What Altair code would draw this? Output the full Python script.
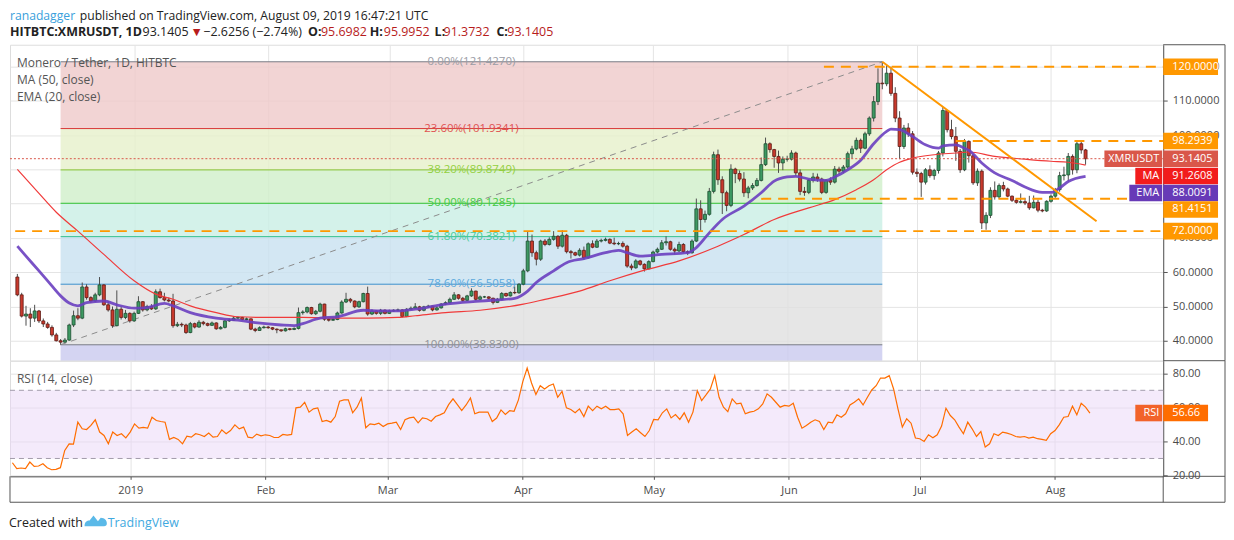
import altair as alt
import pandas as pd

FONT = "Open Sans"

# ---------------- daily candles, HITBTC XMR/USDT ----------------
first_day = "2018-12-05"
first_open = 58.6

close_dec = [53.4, 47.2, 47.8, 46.6, 48.7, 45.8, 44.9, 43.9, 41.7, 40.0, 39.6, 40.2, 44.6, 47.3, 46.6,
             55.7, 52.6, 51.6, 53.4, 56.3, 50.5, 49.0, 44.4, 49.2, 46.8, 48.0, 45.8]
high_dec = [59.5, 54.0, 50.2, 49.5, 50.5, 49.0, 46.5, 45.5, 44.5, 42.3, 40.5, 40.8, 45.0, 48.8, 49.5,
            57.0, 56.5, 53.0, 54.0, 58.6, 56.5, 51.5, 50.0, 54.7, 50.0, 49.0, 48.3]
low_dec = [53.0, 46.8, 44.4, 44.0, 45.5, 45.2, 44.0, 43.5, 41.2, 39.8, 38.83, 39.4, 40.0, 44.0, 46.0,
           46.3, 52.0, 51.0, 51.3, 53.0, 50.2, 48.5, 43.8, 44.2, 46.2, 46.3, 45.3]

close_jan = [48.0, 51.4, 49.0, 50.0, 49.3, 54.3, 52.6, 51.9, 51.6, 44.4, 44.8, 44.6, 42.4, 45.0, 44.0, 45.4,
             45.0, 44.5, 45.2, 43.5, 43.9, 45.8, 46.0, 46.6, 46.8, 46.2, 46.4, 43.4, 43.0, 43.8, 44.0]
high_jan = [48.5, 53.0, 51.6, 50.5, 50.7, 55.0, 55.2, 54.0, 52.6, 53.7, 45.5, 45.3, 45.0, 45.5, 45.3, 46.0,
            45.8, 45.3, 45.6, 45.4, 44.3, 46.2, 46.5, 47.2, 47.1, 47.0, 46.8, 46.5, 43.8, 44.2, 44.4]
low_jan = [45.5, 47.8, 48.5, 48.6, 49.0, 49.0, 52.3, 51.5, 51.2, 43.8, 44.0, 44.0, 42.0, 42.2, 43.6, 43.8,
           44.5, 44.2, 44.3, 43.2, 43.3, 43.6, 45.5, 45.8, 46.4, 45.9, 46.0, 43.1, 42.5, 42.9, 43.6]

close_feb = [43.8, 43.4, 43.2, 42.9, 43.5, 43.3, 43.6, 48.2, 48.4, 49.7, 47.9, 48.6, 50.7, 46.3, 46.0, 46.2,
             48.1, 51.3, 52.1, 51.6, 49.9, 51.4, 53.8, 47.8, 48.7, 48.0, 48.9, 48.0]
high_feb = [44.3, 44.0, 43.6, 43.2, 43.8, 43.7, 43.9, 49.7, 48.9, 50.0, 49.9, 49.0, 51.1, 50.8, 46.6, 46.6,
            48.5, 51.8, 54.0, 52.5, 51.8, 51.7, 54.0, 55.8, 49.2, 48.9, 49.3, 49.2]
low_feb = [43.5, 43.1, 42.2, 42.6, 42.7, 43.0, 43.1, 43.3, 47.6, 48.0, 47.6, 47.5, 48.3, 45.8, 45.6, 45.8,
           46.0, 47.9, 51.0, 51.0, 49.5, 49.6, 51.2, 47.3, 47.5, 47.6, 47.5, 47.7]

close_mar = [48.7, 48.9, 49.0, 47.1, 49.2, 49.5, 49.9, 48.9, 49.9, 50.1, 49.0, 49.6, 50.7, 51.1, 52.1, 53.4,
             52.4, 51.8, 53.1, 54.5, 52.1, 52.8, 52.8, 52.4, 51.2, 52.1, 53.8, 53.1, 54.1, 54.0, 56.5]
high_mar = [49.1, 49.2, 49.4, 49.2, 49.5, 50.0, 51.0, 50.2, 50.2, 50.5, 50.3, 50.0, 51.0, 51.5, 52.6, 54.2,
            53.6, 52.8, 53.4, 55.3, 54.6, 53.2, 53.1, 53.0, 52.6, 52.5, 54.2, 54.0, 54.4, 55.8, 56.8]
low_mar = [47.8, 48.4, 48.6, 46.8, 46.9, 49.0, 49.3, 48.5, 48.6, 49.6, 48.6, 48.8, 49.4, 50.4, 50.9, 51.9,
           52.0, 51.4, 51.6, 52.8, 51.8, 51.9, 52.5, 52.1, 50.6, 51.0, 51.8, 52.8, 52.9, 53.6, 53.7]

close_apr = [60.4, 69.1, 65.7, 63.8, 69.1, 68.1, 69.6, 70.5, 67.6, 70.8, 66.0, 65.7, 65.0, 66.4, 64.2, 68.3,
             67.3, 69.1, 69.3, 69.6, 68.5, 68.3, 68.4, 67.6, 61.8, 61.3, 63.3, 62.3, 61.0, 63.1]
high_apr = [61.0, 72.0, 71.0, 66.3, 69.5, 69.7, 70.2, 72.0, 70.8, 72.3, 71.2, 66.5, 66.0, 67.0, 67.5, 68.7,
            69.3, 69.7, 69.8, 70.1, 69.9, 70.1, 68.9, 69.0, 68.0, 62.5, 63.8, 63.6, 62.6, 63.5]
low_apr = [56.2, 60.0, 64.5, 62.0, 63.3, 67.6, 67.8, 69.2, 66.8, 67.2, 65.5, 64.0, 64.7, 64.6, 63.6, 64.0,
           67.0, 67.1, 68.7, 69.0, 68.2, 67.9, 67.9, 67.2, 61.3, 60.6, 61.0, 61.9, 60.2, 60.8]

close_may = [65.9, 66.7, 68.6, 68.9, 66.7, 66.2, 68.1, 66.0, 65.7, 69.1, 78.5, 75.4, 76.9, 83.6, 94.3, 87.0,
             83.2, 79.5, 90.1, 88.8, 87.2, 83.2, 84.6, 85.3, 86.8, 91.4, 97.5, 95.8, 93.8, 91.9, 93.0]
high_may = [66.3, 67.2, 69.4, 70.5, 69.2, 67.2, 68.9, 68.5, 66.4, 69.6, 81.5, 81.0, 78.0, 84.6, 95.2, 95.8,
            88.0, 83.8, 91.5, 90.5, 89.7, 89.2, 85.2, 86.0, 87.5, 93.5, 99.3, 97.9, 96.0, 95.5, 93.8]
low_may = [62.9, 65.5, 66.5, 67.8, 66.3, 65.2, 65.9, 65.6, 65.0, 65.4, 68.8, 72.0, 74.5, 76.5, 83.0, 85.5,
           77.0, 77.8, 79.0, 86.0, 86.5, 82.0, 81.6, 84.0, 85.0, 86.5, 91.0, 94.9, 90.5, 89.0, 89.8]

close_jun = [93.0, 94.8, 89.0, 83.6, 83.3, 86.8, 87.8, 87.2, 83.3, 86.8, 86.3, 90.1, 89.5, 90.7, 94.6, 96.0,
             98.5, 96.2, 100.4, 105.0, 109.8, 115.2, 115.0, 118.1, 112.2, 105.0, 96.7, 102.1, 100.4, 89.2]
high_jun = [94.0, 95.6, 95.2, 90.0, 84.9, 87.2, 89.0, 88.8, 87.6, 87.2, 87.7, 91.0, 90.8, 91.3, 95.2, 96.9,
            99.3, 99.0, 101.0, 105.5, 111.4, 119.5, 121.427, 120.5, 120.0, 114.0, 107.0, 103.0, 103.5, 101.2]
low_jun = [92.3, 92.6, 88.2, 82.5, 82.3, 82.8, 86.2, 86.4, 82.8, 82.9, 85.5, 85.9, 88.6, 88.9, 90.2, 93.2,
           95.6, 94.8, 95.9, 99.8, 104.0, 108.8, 113.4, 114.3, 111.5, 103.8, 93.0, 96.0, 99.5, 88.5]

close_jul = [88.8, 86.3, 89.9, 88.2, 89.7, 94.8, 107.2, 101.6, 99.6, 95.3, 89.9, 98.2, 94.0, 86.1, 89.5, 74.4,
             76.6, 83.9, 82.0, 85.3, 84.3, 82.2, 81.0, 80.4, 80.6, 80.2, 78.8, 80.4, 78.1, 77.9, 80.7]
high_jul = [90.3, 89.3, 90.4, 91.2, 90.2, 95.4, 108.2, 107.0, 104.5, 102.4, 96.0, 98.9, 98.5, 94.6, 90.3, 90.0,
            77.5, 84.8, 86.5, 85.9, 86.4, 84.7, 82.4, 81.5, 83.0, 81.7, 82.3, 82.4, 81.2, 78.5, 81.0]
low_jul = [87.8, 82.0, 85.6, 87.6, 87.0, 88.8, 93.8, 100.8, 98.8, 92.5, 89.0, 89.5, 92.0, 85.5, 85.2, 72.6,
           72.4, 75.8, 81.2, 81.5, 83.6, 81.9, 80.5, 80.0, 80.1, 79.6, 78.2, 78.6, 77.5, 77.5, 77.6]

close_aug = [82.2, 84.1, 88.2, 88.4, 93.8, 89.9, 97.5, 95.6982, 93.1405]
high_aug = [82.7, 84.6, 89.3, 90.8, 94.8, 94.4, 98.2, 98.3, 95.9952]
low_aug = [80.3, 81.7, 83.5, 86.8, 86.5, 88.5, 88.9, 94.6, 91.3732]

closes = close_dec + close_jan + close_feb + close_mar + close_apr + close_may + close_jun + close_jul + close_aug
highs = high_dec + high_jan + high_feb + high_mar + high_apr + high_may + high_jun + high_jul + high_aug
lows = low_dec + low_jan + low_feb + low_mar + low_apr + low_may + low_jun + low_jul + low_aug

# RSI(14) read day by day
rsi_values = [
    27.5, 24.0, 24.4, 24.0, 27.9, 25.4, 25.6, 26.9, 24.6, 23.4,
    23.6, 24.6, 34.7, 38.6, 38.4, 51.3, 47.4, 47.0, 49.4, 52.7,
    45.5, 43.5, 38.6, 45.5, 43.5, 44.5, 42.1, 45.5, 50.3, 47.8,
    48.2, 47.8, 54.2, 52.3, 51.7, 51.3, 41.2, 42.3, 41.2, 38.6,
    43.1, 42.5, 44.5, 43.9, 42.9, 44.9, 42.5, 42.9, 46.8, 44.5,
    46.4, 49.7, 47.4, 48.4, 42.5, 42.1, 44.3, 43.3, 43.9, 43.5,
    42.3, 42.3, 44.1, 43.7, 44.1, 59.7, 60.1, 63.0, 57.2, 59.1,
    59.7, 51.7, 52.3, 51.3, 54.6, 63.6, 64.4, 64.4, 56.8, 60.1,
    65.5, 48.0, 50.3, 49.9, 50.7, 48.8, 50.3, 50.7, 51.3, 47.0,
    52.7, 53.8, 54.2, 50.9, 53.8, 53.3, 51.9, 54.6, 55.6, 56.8,
    61.6, 65.0, 61.6, 58.1, 61.4, 65.5, 56.2, 57.2, 57.2, 57.2,
    51.7, 53.7, 58.5, 55.8, 58.1, 57.7, 64.4, 75.1, 83.1, 74.3,
    67.5,
    72.7, 70.8, 72.7, 73.7, 65.9, 69.4, 59.7, 58.7, 56.8, 59.1,
    54.6, 60.7, 58.1, 60.7, 59.1, 60.7, 58.7, 58.7, 59.1, 56.2,
    43.5, 45.5, 47.4, 45.1, 42.9, 46.4, 52.9, 52.7, 56.8, 59.1,
    53.8, 55.8, 52.9, 56.8, 51.3, 57.2, 69.8, 64.0, 67.3, 70.8,
    78.6, 65.9, 60.1, 57.5, 65.0, 62.0, 62.4, 56.2, 57.2, 57.7,
    59.1, 62.0, 67.9, 65.9, 63.0, 60.1, 61.1, 60.7, 62.4, 54.2,
    47.8, 49.4, 51.3, 52.7, 51.7, 47.0, 51.3, 50.9, 55.6, 54.2,
    56.2, 61.4, 63.0, 65.0, 61.4, 65.9, 70.2, 72.7, 77.2, 77.2,
    78.6, 70.8, 59.1, 48.4, 53.3, 50.7, 42.0, 41.6, 40.0, 43.9,
    42.1, 43.9, 49.0, 59.5, 55.2, 52.7, 48.4, 44.5, 51.3, 47.4,
    42.9, 45.8, 36.7, 38.6, 44.5, 43.5, 45.5, 44.9, 44.1, 42.9,
    42.5, 42.9, 42.0, 42.5, 41.6, 41.2, 40.6, 44.5, 46.4, 49.9,
    54.2, 54.6, 60.7, 55.6, 62.4, 60.1, 56.66,
]

# MA(50) and EMA(20) read at sample dates
ma_dates = ["2018-12-05", "2018-12-10", "2018-12-14", "2018-12-19", "2018-12-25", "2019-01-01", "2019-01-06",
            "2019-01-10", "2019-01-14", "2019-01-20", "2019-01-25", "2019-02-01", "2019-02-09", "2019-02-17",
            "2019-02-24", "2019-03-03", "2019-03-07", "2019-03-14", "2019-03-22", "2019-04-01", "2019-04-06",
            "2019-04-14", "2019-04-21", "2019-04-29", "2019-05-07", "2019-05-16", "2019-05-22", "2019-05-29",
            "2019-06-06", "2019-06-12", "2019-06-17", "2019-06-21", "2019-06-24", "2019-06-27", "2019-06-30",
            "2019-07-05", "2019-07-10", "2019-07-13", "2019-07-19", "2019-07-26", "2019-08-01", "2019-08-05",
            "2019-08-09"]
ma_values = [90.0, 83.0, 77.5, 72.0, 65.2, 57.5, 53.6, 52.1, 50.2, 48.2, 47.0, 46.8, 46.8, 46.6, 46.6, 46.8,
             47.3, 48.2, 48.9, 50.7, 52.1, 54.5, 57.5, 60.6, 63.3, 67.6, 71.0, 75.4, 78.8, 81.2, 84.1, 87.0,
             89.9, 92.1, 93.3, 94.3, 94.8, 95.1, 93.8, 93.0, 92.4, 92.1, 91.2608]

ema_dates = ["2018-12-05", "2018-12-07", "2018-12-10", "2018-12-12", "2018-12-15", "2018-12-17", "2018-12-19",
             "2018-12-21", "2018-12-25", "2018-12-28", "2019-01-01", "2019-01-04", "2019-01-08", "2019-01-10",
             "2019-01-14", "2019-01-20", "2019-01-25", "2019-01-29", "2019-02-04", "2019-02-07", "2019-02-09",
             "2019-02-13", "2019-02-17", "2019-02-23", "2019-02-27", "2019-03-03", "2019-03-07", "2019-03-14",
             "2019-03-22", "2019-03-30", "2019-04-02", "2019-04-04", "2019-04-08", "2019-04-11", "2019-04-15",
             "2019-04-20", "2019-04-23", "2019-04-25", "2019-04-28", "2019-05-03", "2019-05-09", "2019-05-11",
             "2019-05-14", "2019-05-17", "2019-05-22", "2019-05-26", "2019-05-29", "2019-06-01", "2019-06-03",
             "2019-06-06", "2019-06-10", "2019-06-12", "2019-06-15", "2019-06-18", "2019-06-21", "2019-06-24",
             "2019-06-25", "2019-06-27", "2019-06-30", "2019-07-03", "2019-07-06", "2019-07-07", "2019-07-10",
             "2019-07-12", "2019-07-13", "2019-07-16", "2019-07-19", "2019-07-23", "2019-07-26", "2019-07-30",
             "2019-08-01", "2019-08-03", "2019-08-05", "2019-08-09"]
ema_values = [67.6, 64.7, 60.4, 57.5, 53.1, 51.0, 50.2, 51.1, 51.6, 50.5, 49.5, 49.7, 50.9, 50.2, 48.2, 46.6,
              46.0, 45.3, 44.6, 44.4, 45.0, 46.6, 47.0, 48.9, 48.7, 48.7, 49.2, 50.7, 51.6, 52.4, 54.5, 57.0,
              60.4, 62.8, 64.0, 65.7, 66.4, 65.7, 64.7, 65.2, 65.7, 67.2, 71.5, 75.4, 79.3, 83.2, 86.6, 87.8,
              88.0, 87.2, 86.8, 87.8, 89.9, 92.7, 97.5, 101.1, 101.8, 101.6, 99.6, 97.2, 96.2, 96.9, 97.2, 96.2,
              95.6, 91.9, 89.0, 86.8, 84.9, 83.3, 83.3, 84.6, 86.5, 88.0091]

# Fibonacci retracement drawing
fib_ratios = ["0.00%", "23.60%", "38.20%", "50.00%", "61.80%", "78.60%", "100.00%"]
fib_prices = [121.4270, 101.9341, 89.8749, 80.1285, 70.3821, 56.5058, 38.8300]
fib_start, fib_end = "2018-12-15", "2019-06-23"

# horizontal levels and descending trend line
level_prices = [120.0, 98.2939, 81.4151, 72.0]
level_starts = ["2019-06-09T12:00:00Z", "2019-07-10T00:00:00Z", "2019-05-26T00:00:00Z", "2018-12-04T12:00:00Z"]
trend_dates = ["2019-06-23T00:00:00Z", "2019-08-11T13:00:00Z"]
trend_prices = [121.427, 74.9]

# price-scale tags
tag_names = ["", "", "XMRUSDT", "MA", "EMA", "", ""]
tag_values = [120.0, 98.2939, 93.1405, 91.2608, 88.0091, 81.4151, 72.0]
last_price = 93.1405
rsi_last = 56.66

# ---------------- styles / layout ----------------
W, HP, HR = 1157, 317, 116
P_DOM = [34.18, 126.40]
R_DOM = [19.53, 87.37]
PXU = HP / (P_DOM[1] - P_DOM[0])
ORANGE = "#ff9800"
tag_colors = [ORANGE, ORANGE, "#d9574a", "#f21c1c", "#673ab7", ORANGE, ORANGE]
tag_shift_px = [0, 0, 0, 11, 16.7, 10.6, 0]
name_box_w = {"XMRUSDT": 58, "MA": 27, "EMA": 33}
fib_line_colors = ["#787b86", "#d93636", "#86c232", "#2fc12f", "#2fbf8c", "#3b8fcc", "#787b86"]
fib_text_colors = ["#9a9ca5", "#e05252", "#93cf3e", "#44c944", "#49cc9c", "#5aa8dc", "#8f9199"]
fib_fill_colors = ["#efc9c9", "#e6f0ca", "#d0efc9", "#c9efe5", "#c8e1f0", "#e0e0e0", "#c9c9ef"]

X_DOMAIN = [alt.DateTime(year=2018, month=12, date=4, hours=10, minutes=48, utc=True),
            alt.DateTime(year=2019, month=8, date=25, hours=19, minutes=12, utc=True)]
month_starts = [alt.DateTime(year=2019, month=m, date=1, utc=True) for m in range(1, 9)]
xs = alt.Scale(type="utc", domain=X_DOMAIN, nice=False)
ps = alt.Scale(domain=P_DOM, nice=False, zero=False)
rs = alt.Scale(domain=R_DOM, nice=False, zero=False)

GRID = "#e4e4e4"
xa_price = alt.Axis(values=month_starts, grid=True, gridColor=GRID, labels=False, ticks=False,
                    domain=False, title=None)
xa_rsi = alt.Axis(values=month_starts, grid=True, gridColor=GRID, tickSize=3, tickColor="#555",
                  domain=True, domainColor="#555", labelColor="#4a4a4a", labelFont=FONT, labelFontSize=11,
                  labelPadding=5, title=None, labelFlush=False,
                  labelExpr="utcFormat(datum.value, '%b') == 'Jan' ? utcFormat(datum.value, '%Y') : utcFormat(datum.value, '%b')")
# labels at 80 and 90 sit fully under the price tags, as in the original
ya_price = alt.Axis(orient="right", values=list(range(40, 121, 10)), grid=True, gridColor=GRID,
                    labelExpr="datum.value == 80 || datum.value == 90 ? '' : format(datum.value, '.4f')",
                    tickSize=4, tickColor="#555", domain=True, domainColor="#555", labelColor="#4a4a4a",
                    labelFont=FONT, labelFontSize=11, labelPadding=5, title=None)
ya_rsi = alt.Axis(orient="right", values=[20, 40, 60, 80], format=".2f", grid=True, gridColor=GRID,
                  tickSize=4, tickColor="#555", domain=True, domainColor="#555", labelColor="#4a4a4a",
                  labelFont=FONT, labelFontSize=11, labelPadding=5, title=None)


def XP(f):
    return alt.X(f"{f}:T", scale=xs, axis=xa_price, title=None)


def YP(f):
    return alt.Y(f"{f}:Q", scale=ps, axis=ya_price, title=None)


def YR(f):
    return alt.Y(f"{f}:Q", scale=rs, axis=ya_rsi, title=None)


one = pd.DataFrame({"k": [0]})


def ptext(s, x, y, color="#222", size=12.5, bold=False, align="left", baseline="top"):
    return alt.Chart(one).mark_text(font=FONT, fontSize=size, fontWeight="bold" if bold else "normal",
                                    align=align, baseline=baseline, color=color).encode(
        x=alt.value(x), y=alt.value(y), text=alt.value(s))


def prule(x, x2, y, y2, color="#555"):
    return alt.Chart(one).mark_rule(color=color, strokeWidth=1).encode(
        x=alt.value(x), x2=alt.value(x2), y=alt.value(y), y2=alt.value(y2))


# ---------------- tables ----------------
dates = pd.date_range(first_day, periods=len(closes), freq="D").strftime("%Y-%m-%d").tolist()
opens = [first_open] + closes[:-1]
candles = pd.DataFrame({"date": dates, "open": opens, "high": highs, "low": lows, "close": closes})
rsi_df = pd.DataFrame({"date": dates, "rsi": rsi_values})
ma_df = pd.DataFrame({"date": ma_dates, "v": ma_values})
ema_df = pd.DataFrame({"date": ema_dates, "v": ema_values})

fill_tops = fib_prices
fill_bots = fib_prices[1:] + [P_DOM[0]]
fib_fill_df = pd.DataFrame({"x": fib_start, "x2": fib_end, "top": fill_tops, "bot": fill_bots,
                            "color": fib_fill_colors})
mid = (pd.Timestamp(fib_start) + (pd.Timestamp(fib_end) - pd.Timestamp(fib_start)) / 2).strftime("%Y-%m-%dT%H:%M:%SZ")
fib_df = pd.DataFrame({"x": fib_start, "x2": fib_end, "mid": mid, "price": fib_prices,
                       "label": [f"{r}({p:.4f})" for r, p in zip(fib_ratios, fib_prices)],
                       "lc": fib_line_colors, "tc": fib_text_colors})
diag_df = pd.DataFrame({"x": [fib_start], "x2": [fib_end], "y": [fib_prices[-1]], "y2": [fib_prices[0]]})
lvl_df = pd.DataFrame({"start": level_starts, "level": level_prices})
trend_df = pd.DataFrame({"x": [trend_dates[0]], "x2": [trend_dates[1]], "y": [trend_prices[0]], "y2": [trend_prices[1]]})
price_line_df = pd.DataFrame({"p": [last_price]})

half = 8.3 / PXU
centers = [v - s / PXU for v, s in zip(tag_values, tag_shift_px)]
tag_df = pd.DataFrame({"name": tag_names, "label": [f"{v:.4f}" for v in tag_values], "c": centers,
                       "top": [c + half for c in centers], "bot": [c - half for c in centers],
                       "color": tag_colors})

# ---------------- price panel ----------------
layers = []
layers.append(alt.Chart(fib_fill_df).mark_rect(opacity=0.8).encode(
    x=XP("x"), x2=alt.X2("x2"), y=YP("top"), y2=alt.Y2("bot"), color=alt.Color("color:N", scale=None)))
layers.append(alt.Chart(fib_df).mark_rule(strokeWidth=1).encode(
    x=XP("x"), x2=alt.X2("x2"), y=YP("price"), color=alt.Color("lc:N", scale=None)))
layers.append(alt.Chart(diag_df).mark_rule(color="#8c8c8c", strokeWidth=1, strokeDash=[6, 5]).encode(
    x=XP("x"), x2=alt.X2("x2"), y=YP("y"), y2=alt.Y2("y2")))
layers.append(alt.Chart(candles).mark_rule(color="#4d4d4d", strokeWidth=1).encode(
    x=XP("date"), y=YP("low"), y2=alt.Y2("high")))
up = "datum.close >= datum.open"
layers.append(alt.Chart(candles).mark_bar(size=3, strokeWidth=0.8).encode(
    x=XP("date"), y=YP("open"), y2=alt.Y2("close"),
    color=alt.condition(up, alt.value("#3d9962"), alt.value("#c9392c")),
    stroke=alt.condition(up, alt.value("#1d4f31"), alt.value("#5e1a14"))))
layers.append(alt.Chart(ma_df).mark_line(color="#f03a3a", strokeWidth=1.2, interpolate="monotone").encode(
    x=XP("date"), y=YP("v")))
layers.append(alt.Chart(ema_df).mark_line(color="#6a3fc0", strokeWidth=2.8, opacity=0.9, interpolate="monotone").encode(
    x=XP("date"), y=YP("v")))
layers.append(alt.Chart(lvl_df).mark_rule(color=ORANGE, strokeWidth=2, strokeDash=[10, 7]).encode(
    x=XP("start"), x2=alt.value(W), y=YP("level")))
layers.append(alt.Chart(trend_df).mark_rule(color=ORANGE, strokeWidth=2).encode(
    x=XP("x"), x2=alt.X2("x2"), y=YP("y"), y2=alt.Y2("y2")))
layers.append(alt.Chart(price_line_df).mark_rule(color="#d9574a", strokeWidth=1, strokeDash=[2, 2]).encode(
    x=alt.value(0), x2=alt.value(W), y=YP("p")))
layers.append(alt.Chart(fib_df).mark_text(font=FONT, fontSize=11.5, align="center", baseline="middle").encode(
    x=XP("mid"), y=YP("price"), text="label:N", color=alt.Color("tc:N", scale=None)))
# legend texts
layers.append(ptext("Monero / Tether, 1D, HITBTC", 7, 18, "#555", 12, baseline="middle"))
layers.append(ptext("MA (50, close)", 7, 35, "#555", 12, baseline="middle"))
layers.append(ptext("EMA (20, close)", 7, 52, "#555", 12, baseline="middle"))
# price-scale tags
layers.append(alt.Chart(tag_df).mark_rect().encode(
    x=alt.value(W), x2=alt.value(W + 55), y=YP("top"), y2=alt.Y2("bot"), color=alt.Color("color:N", scale=None)))
for nm, wdt in name_box_w.items():
    sub = tag_df[tag_df.name == nm]
    layers.append(alt.Chart(sub).mark_rect().encode(
        x=alt.value(W - 1 - wdt), x2=alt.value(W - 1), y=YP("top"), y2=alt.Y2("bot"),
        color=alt.Color("color:N", scale=None)))
layers.append(alt.Chart(tag_df).mark_text(font=FONT, fontSize=11, align="left", baseline="middle", color="white").encode(
    x=alt.value(W + 9), y=YP("c"), text="label:N"))
layers.append(alt.Chart(tag_df[tag_df.name != ""]).mark_text(font=FONT, fontSize=11, align="right", baseline="middle",
                                                           color="white").encode(
    x=alt.value(W - 4), y=YP("c"), text="name:N"))
# header
hdr1 = [(0, "ranadagger", "#3a9fdc", False),
        (70, "published on TradingView.com, August 09, 2019 16:47:21 UTC", "#222", False)]
hdr2 = [(0, "HITBTC:XMRUSDT, 1D", "#222", True), (133, "93.1405", "#222", False),
        (181, "\u25bc", "#b71c1c", False), (194, "\u22122.6256 (\u22122.74%)", "#222", False),
        (299, "O:", "#222", True), (312, "95.6982", "#b71c1c", False),
        (361, "H:", "#222", True), (375, "95.9952", "#b71c1c", False),
        (426, "L:", "#222", True), (435, "91.3732", "#b71c1c", False),
        (488, "C:", "#222", True), (499, "93.1405", "#b71c1c", False)]
for x, s, c, b in hdr1:
    layers.append(ptext(s, x, -35, c, 12.2, b))
for x, s, c, b in hdr2:
    layers.append(ptext(s, x, -19, c, 12.5, b))
# frame of the price-scale column
layers.append(prule(W + 62, W + 62, 0, HP))
layers.append(prule(W, W + 62, 0, 0))

price = alt.layer(*layers).properties(width=W, height=HP)

# ---------------- RSI panel ----------------
band_df = pd.DataFrame({"lo": [30], "hi": [70]})
rlv_df = pd.DataFrame({"lv": [30, 70]})
rtag_df = pd.DataFrame({"v": [rsi_last], "label": [f"{rsi_last:.2f}"]})
rtag_df["top"] = rtag_df.v + 8.3 / (HR / (R_DOM[1] - R_DOM[0]))
rtag_df["bot"] = rtag_df.v - 8.3 / (HR / (R_DOM[1] - R_DOM[0]))

rl = []
rl.append(alt.Chart(band_df).mark_rect(color="#e9d5f8", opacity=0.5).encode(
    x=alt.value(0), x2=alt.value(W), y=YR("hi"), y2=alt.Y2("lo")))
rl.append(alt.Chart(rlv_df).mark_rule(color="#a39cab", strokeWidth=1, strokeDash=[5, 4]).encode(
    x=alt.value(0), x2=alt.value(W), y=YR("lv")))
rl.append(alt.Chart(rsi_df).mark_line(color="#ff6d00", strokeWidth=1.2).encode(
    x=alt.X("date:T", scale=xs, axis=xa_rsi, title=None), y=YR("rsi")))
rl.append(ptext("RSI (14, close)", 7, 18, "#555", 12, baseline="middle"))
rl.append(alt.Chart(rtag_df).mark_rect(color="#ff6d00").encode(
    x=alt.value(W), x2=alt.value(W + 45), y=YR("top"), y2=alt.Y2("bot")))
rl.append(alt.Chart(rtag_df).mark_rect(color="#f2632a").encode(
    x=alt.value(W - 28), x2=alt.value(W - 1), y=YR("top"), y2=alt.Y2("bot")))
rl.append(alt.Chart(rtag_df).mark_text(font=FONT, fontSize=11, align="left", baseline="middle", color="white").encode(
    x=alt.value(W + 9), y=YR("v"), text="label:N"))
rl.append(alt.Chart(rtag_df).mark_text(font=FONT, fontSize=11, align="right", baseline="middle", color="white").encode(
    x=alt.value(W - 4), y=YR("v"), text=alt.value("RSI")))
# frame lines of the panel column and time-axis row
rl.append(prule(W + 62, W + 62, 0, HR + 26))
rl.append(prule(0, W + 62, HR + 26, HR + 26))
rl.append(prule(0, 0, HR, HR + 26))
rl.append(prule(W, W, HR, HR + 26))
rl.append(prule(W, W + 62, 0, 0))
rl.append(prule(W, W + 62, HR, HR))
# footer
rl.append(alt.Chart(one).mark_point(
    shape="M-1,0.45 C-1,0.1 -0.8,-0.05 -0.55,-0.05 L-0.2,-0.5 L0.2,0 L0.45,-0.3 C0.8,-0.3 1,-0.05 1,0.2 C1,0.35 0.9,0.45 0.75,0.45 Z",
    filled=True, color="#5ab9e8", opacity=1, size=500).encode(x=alt.value(86), y=alt.value(161)))
rl.append(ptext("Created with", -1, 167, "#222", 12.5, baseline="alphabetic"))
rl.append(ptext("TradingView", 98, 167, "#3fa9e0", 12.5, baseline="alphabetic"))

rsi = alt.layer(*rl).properties(width=W, height=HR)

chart = alt.vconcat(price, rsi, spacing=0, bounds="flush").resolve_scale(
    y="independent").properties(padding={"left": 0, "top": 0, "right": 0, "bottom": 0}).configure_view(
    stroke="#555", strokeWidth=1).configure(background="white")

chart.save("out.html", embed_options={"renderer": "svg", "actions": False})
